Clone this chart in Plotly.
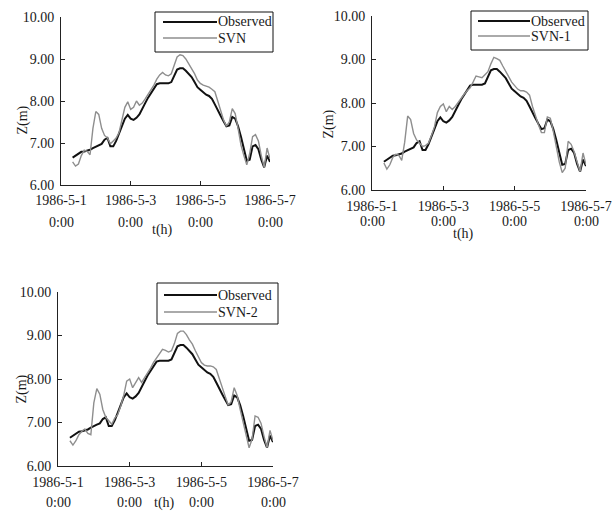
import plotly.graph_objects as go

hours = [8, 10, 12, 14, 16, 18, 20, 22, 24, 26, 28, 30, 32, 34, 36, 38, 40, 42, 44, 46,
         48, 50, 52, 54, 56, 58, 60, 62, 64, 66, 68, 70, 72, 74, 76, 78, 80, 82, 84, 86,
         88, 90, 92, 94, 96, 98, 100, 102, 104, 106, 108, 110, 112, 114, 116, 118, 120,
         122, 124, 126, 128, 130, 132, 134, 136, 138, 140, 142, 144]

observed = [6.65, 6.70, 6.75, 6.79, 6.80, 6.82, 6.84, 6.88, 6.92, 6.95, 6.98, 7.08, 7.12,
            6.92, 6.92, 7.05, 7.22, 7.42, 7.58, 7.67, 7.58, 7.55, 7.60, 7.68, 7.80, 7.95,
            8.08, 8.18, 8.28, 8.40, 8.42, 8.42, 8.42, 8.42, 8.45, 8.62, 8.75, 8.78, 8.78,
            8.72, 8.65, 8.57, 8.45, 8.33, 8.27, 8.20, 8.15, 8.12, 8.05, 7.92, 7.80, 7.65,
            7.52, 7.40, 7.42, 7.62, 7.58, 7.40, 7.15, 6.85, 6.58, 6.60, 6.92, 6.95, 6.85,
            6.60, 6.42, 6.70, 6.55]

svn = [6.55, 6.45, 6.50, 6.70, 6.83, 6.80, 6.72, 7.35, 7.75, 7.68, 7.35, 7.18, 7.12,
       6.98, 7.05, 7.12, 7.25, 7.52, 7.85, 7.98, 7.80, 7.85, 8.00, 7.90, 7.95, 8.05,
       8.15, 8.28, 8.38, 8.52, 8.62, 8.68, 8.62, 8.60, 8.65, 8.85, 9.05, 9.10, 9.08,
       9.00, 8.88, 8.78, 8.65, 8.50, 8.42, 8.38, 8.35, 8.33, 8.28, 8.22, 8.00, 7.75,
       7.55, 7.40, 7.50, 7.82, 7.70, 7.35, 6.95, 6.70, 6.48, 6.75, 7.15, 7.20, 7.05,
       6.70, 6.42, 6.88, 6.62]

svn1 = [6.62, 6.48, 6.58, 6.75, 6.82, 6.80, 6.68, 7.10, 7.70, 7.62, 7.30, 7.15, 7.08,
        7.00, 7.02, 7.08, 7.25, 7.45, 7.78, 7.92, 7.98, 7.80, 7.92, 7.85, 7.92, 8.02,
        8.12, 8.20, 8.28, 8.35, 8.48, 8.62, 8.60, 8.58, 8.65, 8.72, 8.90, 9.05, 9.02,
        8.98, 8.85, 8.72, 8.60, 8.48, 8.40, 8.32, 8.28, 8.28, 8.25, 8.18, 7.92, 7.68,
        7.50, 7.32, 7.32, 7.68, 7.65, 7.35, 6.95, 6.65, 6.40, 6.50, 7.12, 7.05, 6.88,
        6.62, 6.42, 6.85, 6.58]

svn2 = [6.58, 6.48, 6.58, 6.72, 6.80, 6.85, 6.75, 6.72, 7.45, 7.78, 7.65, 7.30, 7.12,
        7.05, 6.96, 7.10, 7.18, 7.38, 7.62, 7.95, 8.00, 7.80, 7.92, 8.03, 7.92, 8.02,
        8.12, 8.25, 8.38, 8.48, 8.58, 8.68, 8.66, 8.62, 8.65, 8.82, 9.05, 9.10, 9.10,
        9.02, 8.90, 8.80, 8.65, 8.52, 8.38, 8.32, 8.30, 8.30, 8.28, 8.22, 8.00, 7.78,
        7.60, 7.40, 7.48, 7.80, 7.62, 7.30, 7.00, 6.68, 6.42, 6.62, 7.15, 7.12, 6.98,
        6.68, 6.42, 6.82, 6.58]

x_tickvals = [0, 48, 96, 144]
x_ticktext = ["1986-5-1", "1986-5-3", "1986-5-5", "1986-5-7"]
x_ticktime = ["0:00", "0:00", "0:00", "0:00"]
y_tickvals = [6, 7, 8, 9, 10]
y_ticktext = ["6.00", "7.00", "8.00", "9.00", "10.00"]

sim_series = [("SVN", svn), ("SVN-1", svn1), ("SVN-2", svn2)]

W, H = 613, 521
# plot areas in pixels: (left, right, top, bottom)
areas = [(61, 270, 17, 185), (372, 586, 16, 190), (58, 273, 292, 466)]
xlab_standoff = [2, 3, 3]
time_row_y = [222, 221, 502]
# legend boxes: (left, right, top, bottom, line_x0, line_x1, row1_y, row2_y)
legend_boxes = [(155, 273, 12, 52, 163, 217, 22, 38),
                (471, 588, 11, 50, 478, 530, 21, 36),
                (157, 278, 283, 324, 164, 217, 295, 312)]
ytitle_pos = [(12, 104), (329, 108), (11, 406)]
xtitle_pos = [(150, 230), (476, 234), (152, 513)]

FONT = "Liberation Serif, Times New Roman, serif"
TXT = "#1a1a1a"
OBS_COLOR, SIM_COLOR = "#111111", "#8e8e8e"


def px(x):
    return x / W


def py(y):
    return 1 - y / H


fig = go.Figure()
layout = dict(width=W, height=H, margin=dict(l=0, r=0, t=0, b=0, autoexpand=False),
              paper_bgcolor="white", plot_bgcolor="white", showlegend=False,
              font=dict(family=FONT, size=14, color=TXT), annotations=[], shapes=[])

for i, (name, sim) in enumerate(sim_series):
    sfx = "" if i == 0 else str(i + 1)
    fig.add_trace(go.Scatter(x=hours, y=observed, mode="lines", name="Observed",
                             line=dict(color=OBS_COLOR, width=2),
                             xaxis="x" + sfx, yaxis="y" + sfx))
    fig.add_trace(go.Scatter(x=hours, y=sim, mode="lines", name=name,
                             line=dict(color=SIM_COLOR, width=1.4),
                             xaxis="x" + sfx, yaxis="y" + sfx))
    l, r, t, b = areas[i]
    axcommon = dict(showline=True, linecolor="#222222", linewidth=1, ticks="inside",
                    ticklen=4, tickcolor="#222222", showgrid=False, zeroline=False,
                    automargin=False,
                    tickfont=dict(family=FONT, size=14, color=TXT))
    layout["xaxis" + sfx] = dict(domain=[px(l), px(r)], range=[0, 144],
                                 tickvals=x_tickvals, ticktext=x_ticktext,
                                 ticklabelstandoff=xlab_standoff[i],
                                 anchor="y" + sfx, **axcommon)
    layout["yaxis" + sfx] = dict(domain=[py(b), py(t)], range=[6, 10],
                                 tickvals=y_tickvals, ticktext=y_ticktext,
                                 ticklabelstandoff=3,
                                 anchor="x" + sfx, **axcommon)
    # second row of the x tick labels (time of day), placed on the x scale
    for tv, tt in zip(x_tickvals, x_ticktime):
        layout["annotations"].append(dict(text=tt, x=tv, xref="x" + sfx,
                                          y=py(time_row_y[i]), yref="paper",
                                          showarrow=False, yanchor="middle",
                                          font=dict(family=FONT, size=14, color=TXT)))
    # legend box
    bl, br, bt, bb, lx0, lx1, r1, r2 = legend_boxes[i]
    layout["shapes"].append(dict(type="rect", xref="paper", yref="paper",
                                 x0=px(bl), x1=px(br), y0=py(bb), y1=py(bt),
                                 line=dict(color="#111111", width=1),
                                 fillcolor="white", layer="above"))
    for (lab, col, wd, ry) in [("Observed", OBS_COLOR, 2, r1), (name, SIM_COLOR, 1.4, r2)]:
        layout["shapes"].append(dict(type="line", xref="paper", yref="paper",
                                     x0=px(lx0), x1=px(lx1), y0=py(ry), y1=py(ry),
                                     line=dict(color=col, width=wd), layer="above"))
        layout["annotations"].append(dict(text=lab, x=px(lx1 + 1), y=py(ry),
                                          xref="paper", yref="paper", showarrow=False,
                                          xanchor="left", yanchor="middle",
                                          xshift=-2,
                                          font=dict(family=FONT, size=14, color=TXT)))
    yx, yy = ytitle_pos[i]
    layout["annotations"].append(dict(text="Z(m)", x=px(yx), y=py(yy), xref="paper",
                                      yref="paper", showarrow=False, textangle=-90,
                                      font=dict(family=FONT, size=14, color=TXT)))
    tx, ty = xtitle_pos[i]
    layout["annotations"].append(dict(text="t(h)", x=px(tx), y=py(ty), xref="paper",
                                      yref="paper", showarrow=False,
                                      font=dict(family=FONT, size=14, color=TXT)))

fig.update_layout(**layout)
fig.write_html("out.html", config={"displayModeBar": False},
               post_script="document.body.style.margin='0px';")
